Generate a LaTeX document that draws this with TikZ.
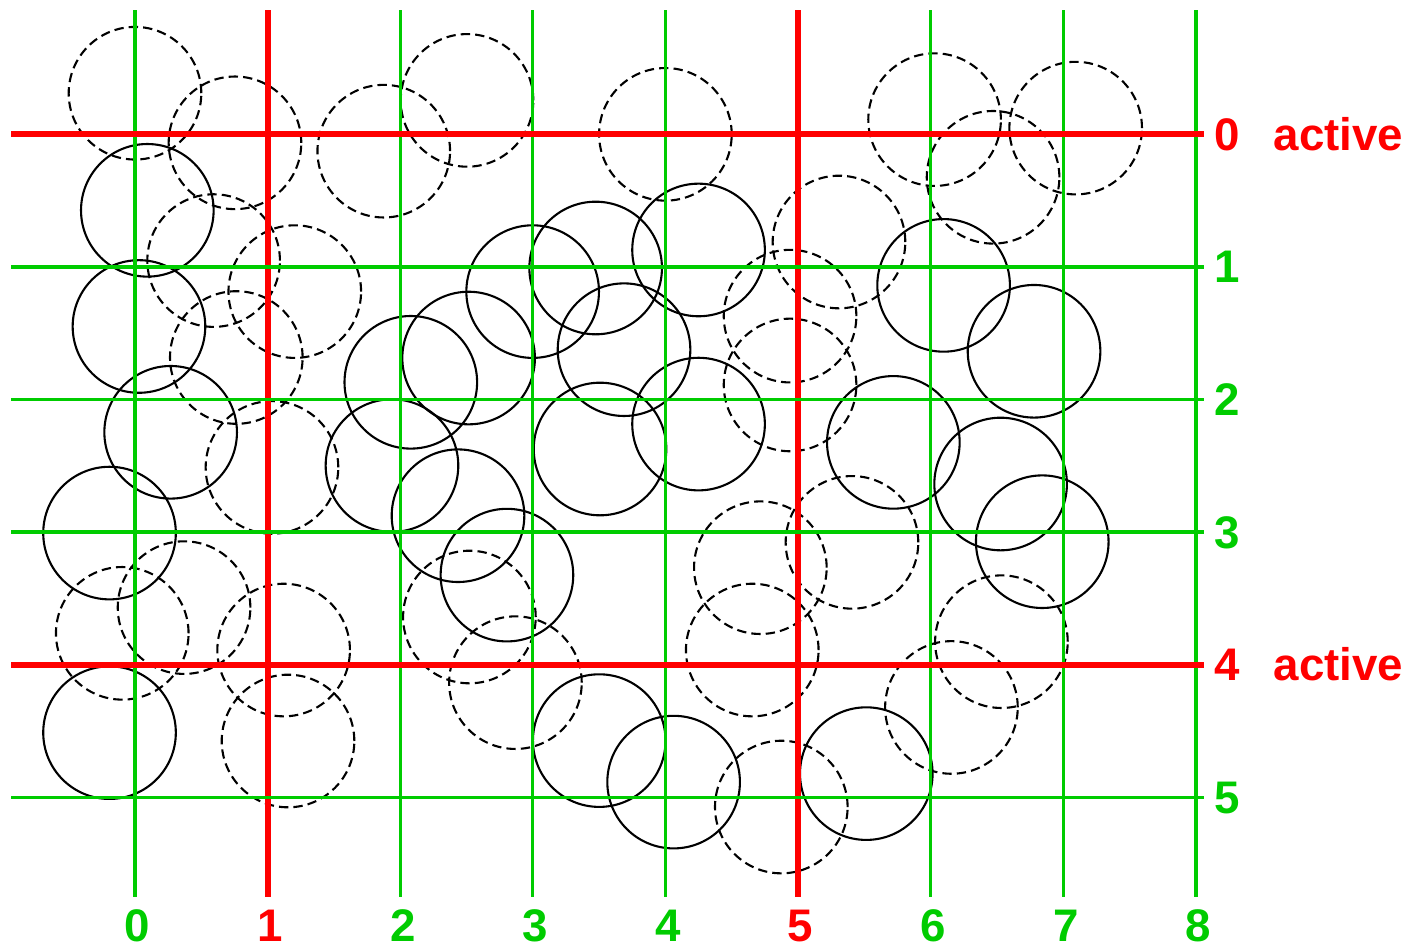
\documentclass[tikz,border=0pt]{standalone}
\usepackage{fontspec}
\setmainfont{Liberation Sans}
\definecolor{gridgreen}{RGB}{0,204,0}
\definecolor{gridred}{RGB}{255,0,0}

\begin{document}
\begin{tikzpicture}
		\tikzstyle{gline}=[draw=gridgreen, line width=0.72pt]
		\tikzstyle{rline}=[draw=gridred, line width=1.3pt]
		\tikzstyle{cell}=[draw=black, line width=0.45pt]
		\tikzstyle{ghost}=[cell, dash pattern=on 2pt off 1.1pt]
		\tikzstyle{every node}=[font=\fontsize{9.8}{12}\selectfont\bfseries, inner sep=0pt]
		\tikzstyle{glabel}=[text=gridgreen, anchor=base]
		\tikzstyle{rlabel}=[text=gridred, anchor=base]
		\useasboundingbox (-1.018,-6.106) rectangle (9.585,1.013);

    % Dashed circles
		\foreach \x/\y in {0/0.31, 0.754/-0.064, 1.876/-0.127, 2.504/0.256, 4.0/0.0,
			6.03/0.111, 7.094/0.047, 6.471/-0.324, 5.309/-0.812, 0.593/-0.952,
			1.205/-1.186, 0.764/-1.683, 4.94/-1.371, 4.94/-1.89, 1.033/-2.512,
			4.716/-3.268, 5.407/-3.077, 0.37/-3.569, -0.096/-3.763, 1.121/-3.889,
			2.522/-3.64, 2.869/-4.135, 4.655/-3.889, 6.534/-3.826, 6.157/-4.322,
			1.154/-4.575, 4.874/-5.073}
			\draw[ghost] (\x,\y) circle (0.5);

    % Solid circles
		\foreach \x/\y in {0.093/-0.573, 0.03/-1.449, 0.269/-2.247, -0.192/-3.007,
			-0.192/-4.512, 2.999/-1.186, 3.474/-1.008, 4.25/-0.872, 3.688/-1.624,
			2.516/-1.687, 2.08/-1.87, 1.938/-2.498, 2.436/-2.876, 2.805/-3.324,
			3.507/-2.373, 4.25/-2.185, 6.098/-1.139, 6.78/-1.636, 5.719/-2.323,
			6.528/-2.637, 6.842/-3.072, 3.501/-4.572, 4.062/-4.885, 5.515/-4.821}
			\draw[cell] (\x,\y) circle (0.5);

    % Columns
		\foreach \i in {0,2,3,4,6,7,8}{
			\coordinate (ct\i) at (\i,0.937);
			\coordinate (cb\i) at (\i,-5.752);
			\draw[gline] (ct\i) -- (cb\i);
			\node[glabel](bx\i) at (\i+0.02,-6.085){\i};
		}
		\foreach \i in {1,5}{
			\coordinate (ct\i) at (\i,0.937);
			\coordinate (cb\i) at (\i,-5.752);
			\draw[rline] (ct\i) -- (cb\i);
			\node[rlabel](bx\i) at (\i+0.02,-6.085){\i};
		}

    % Rows
		\foreach \j in {1,2,3,5}{
			\coordinate (rl\j) at (-0.935,-\j);
			\coordinate (rr\j) at (8.06,-\j);
			\draw[gline] (rl\j) -- (rr\j);
			\node[glabel](by\j) at (8.235,-\j-0.12){\j};
		}
		\foreach \j in {0,4}{
			\coordinate (rl\j) at (-0.935,-\j);
			\coordinate (rr\j) at (8.06,-\j);
			\draw[rline] (rl\j) -- (rr\j);
			\node[rlabel](by\j) at (8.235,-\j-0.12){\j};
			\node[rlabel, anchor=base west](act\j) at (8.58,-\j-0.12){active};
		}

  \end{tikzpicture}
\end{document}
